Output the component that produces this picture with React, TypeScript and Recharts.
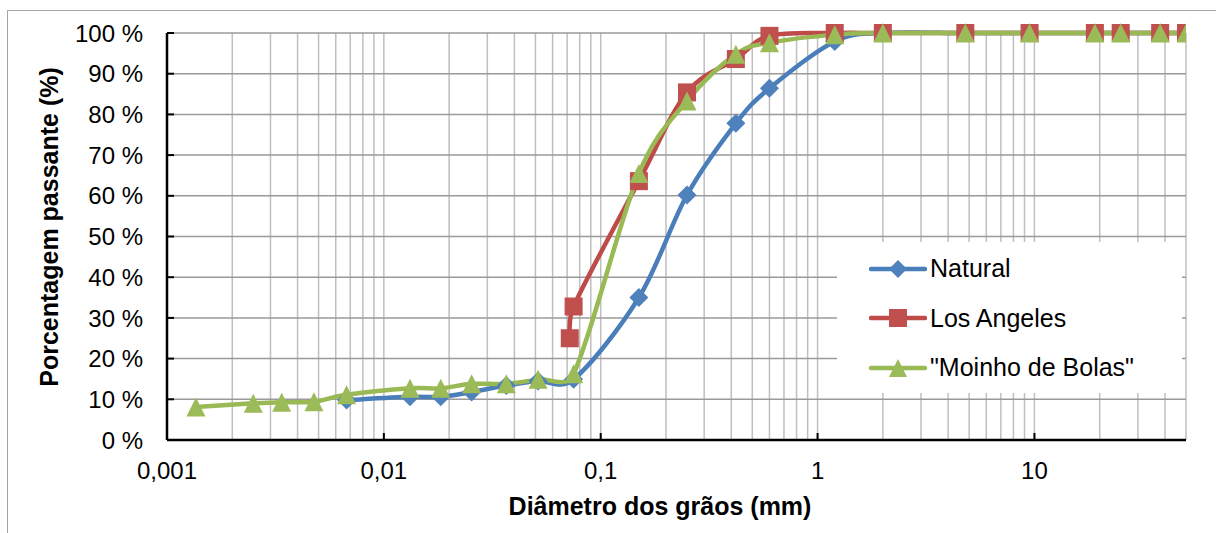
import React from 'react';
import { LineChart, Line, XAxis, YAxis, CartesianGrid, Legend } from 'recharts';

const FONT = '"Liberation Sans", Arial, Helvetica, sans-serif';

// Natural
const naturalDiameters = [0.00673, 0.0132, 0.0183, 0.0254, 0.0367, 0.0514, 0.075, 0.15, 0.25, 0.42, 0.6, 1.2, 2, 4.8, 9.5, 19, 25, 38, 50];
const naturalPassing = [9.8, 10.6, 10.6, 11.8, 13.4, 14.5, 14.9, 35.0, 60.2, 77.8, 86.4, 97.9, 100, 100, 100, 100, 100, 100, 100];

// Los Angeles
const laDiameters = [0.072, 0.075, 0.15, 0.25, 0.42, 0.6, 1.2, 2, 4.8, 9.5, 19, 25, 38, 50];
const laPassing = [25.0, 32.8, 63.6, 85.4, 93.6, 99.3, 100, 100, 100, 100, 100, 100, 100, 100];

// "Moinho de Bolas"
const moinhoDiameters = [0.00136, 0.0025, 0.00338, 0.00476, 0.00673, 0.0132, 0.0183, 0.0254, 0.0367, 0.0514, 0.075, 0.15, 0.25, 0.42, 0.6, 1.2, 2, 4.8, 9.5, 19, 25, 38, 50];
const moinhoPassing = [8.1, 9.0, 9.3, 9.4, 11.1, 12.7, 12.7, 13.8, 13.8, 14.9, 16.3, 65.5, 83.3, 94.8, 97.6, 99.6, 100, 100, 100, 100, 100, 100, 100];

const seriesNames = ['Natural', 'Los Angeles', '"Moinho de Bolas"'];

const xMajorTicks = [0.001, 0.01, 0.1, 1, 10];
const xTickLabels = ['0,001', '0,01', '0,1', '1', '10'];
const xMinorMultipliers = [1, 2, 3, 4, 5, 6, 7, 8, 9];
const xMin = 0.001;
const xMax = 50;
const yTicks = [0, 10, 20, 30, 40, 50, 60, 70, 80, 90, 100];

const gridTicks = xMajorTicks
  .flatMap((d) => xMinorMultipliers.map((m) => Number((d * m).toPrecision(6))))
  .filter((v) => v <= xMax);

const toData = (ds: number[], ps: number[]) => ds.map((d, i) => ({ d, p: ps[i] }));
const naturalData = toData(naturalDiameters, naturalPassing);
const laData = toData(laDiameters, laPassing);
const moinhoData = toData(moinhoDiameters, moinhoPassing);

const BLUE_LINE = '#4A7EBB';
const BLUE_MARK = '#4F81BD';
const RED_LINE = '#BE4B48';
const RED_MARK = '#C0504D';
const GREEN_LINE = '#98B954';
const GREEN_MARK = '#9BBB59';

const TICK_FONT = 24;
const X_MARGIN = 22;
const Y_MARGIN = 24;
const TICK_LEN = 7;

const dist = (a: number[], b: number[]) => Math.hypot(a[0] - b[0], a[1] - b[1]);

// Excel-like smoothed line: Catmull-Rom Bezier with handles clamped to half the segment length
const excelSmooth = (context: any) => {
  let pts: number[][] = [];
  return {
    areaStart() {},
    areaEnd() {},
    lineStart() {
      pts = [];
    },
    point(x: number, y: number) {
      pts.push([+x, +y]);
    },
    lineEnd() {
      const n = pts.length;
      if (!n) return;
      context.moveTo(pts[0][0], pts[0][1]);
      for (let i = 0; i < n - 1; i++) {
        const p0 = pts[Math.max(0, i - 1)];
        const p1 = pts[i];
        const p2 = pts[i + 1];
        const p3 = pts[Math.min(n - 1, i + 2)];
        const d12 = dist(p1, p2);
        const d02 = dist(p0, p2);
        const d13 = dist(p1, p3);
        const f = d02 / 6 < d12 / 2 || d02 === 0 ? 1 / 6 : d12 / 2 / d02;
        const g = d13 / 6 < d12 / 2 || d13 === 0 ? 1 / 6 : d12 / 2 / d13;
        context.bezierCurveTo(
          p1[0] + f * (p2[0] - p0[0]),
          p1[1] + f * (p2[1] - p0[1]),
          p2[0] - g * (p3[0] - p1[0]),
          p2[1] - g * (p3[1] - p1[1]),
          p2[0],
          p2[1]
        );
      }
    },
  };
};

const diamondPath = (cx: number, cy: number, r: number) =>
  `M${cx},${cy - r}L${cx + r},${cy}L${cx},${cy + r}L${cx - r},${cy}Z`;
const trianglePath = (cx: number, cy: number, r: number) =>
  `M${cx},${cy - r}L${cx + r},${cy + r}L${cx - r},${cy + r}Z`;

const DiamondDot = (props: any) => {
  const { cx, cy, index } = props;
  if (cx == null || cy == null) return <g key={`dd${index}`} />;
  return <path key={`dd${index}`} d={diamondPath(cx, cy, 9.5)} fill={BLUE_MARK} />;
};
const SquareDot = (props: any) => {
  const { cx, cy, index } = props;
  if (cx == null || cy == null) return <g key={`sd${index}`} />;
  return <rect key={`sd${index}`} x={cx - 9} y={cy - 9} width={18} height={18} fill={RED_MARK} />;
};
const TriangleDot = (props: any) => {
  const { cx, cy, index } = props;
  if (cx == null || cy == null) return <g key={`td${index}`} />;
  return <path key={`td${index}`} d={trianglePath(cx, cy, 9.5)} fill={GREEN_MARK} />;
};

const XTick = (props: any) => {
  const { x, y, payload } = props;
  const idx = xMajorTicks.findIndex((v) => Math.abs(v - payload.value) / v < 1e-6);
  if (idx < 0) return <g />;
  const axisY = y - X_MARGIN;
  return (
    <g>
      {idx > 0 && <line x1={x} x2={x} y1={axisY} y2={axisY - TICK_LEN} stroke="#000" strokeWidth={2} />}
      <text x={x} y={y} dy="0.72em" textAnchor="middle" fontSize={TICK_FONT} fontFamily={FONT} fill="#000">
        {xTickLabels[idx]}
      </text>
    </g>
  );
};

const YTick = (props: any) => {
  const { x, y, payload } = props;
  const axisX = x + Y_MARGIN;
  return (
    <g>
      <line x1={axisX} x2={axisX + TICK_LEN} y1={y} y2={y} stroke="#000" strokeWidth={2} />
      <text x={x} y={y} dy="0.36em" textAnchor="end" fontSize={TICK_FONT} fontFamily={FONT} fill="#000">
        {`${payload.value} %`}
      </text>
    </g>
  );
};

const LegendIcon = ({ i }: { i: number }) => {
  const color = [BLUE_LINE, RED_LINE, GREEN_LINE][i];
  return (
    <svg width={58} height={24} style={{ display: 'block' }}>
      <line x1={2} x2={56} y1={12} y2={12} stroke={color} strokeWidth={4.5} strokeLinecap="round" />
      {i === 0 && <path d={diamondPath(29, 12, 9)} fill={BLUE_MARK} />}
      {i === 1 && <rect x={20} y={3} width={18} height={18} fill={RED_MARK} />}
      {i === 2 && <path d={trianglePath(29, 12, 9)} fill={GREEN_MARK} />}
    </svg>
  );
};

const LegendContent = () => (
  <div style={{ paddingTop: 2, paddingLeft: 32 }}>
    {seriesNames.map((n, i) => (
      <div key={n} style={{ display: 'flex', alignItems: 'center', height: 49.5 }}>
        <LegendIcon i={i} />
        <span style={{ fontFamily: FONT, fontSize: 25, color: '#000', marginLeft: 3, whiteSpace: 'nowrap' }}>{n}</span>
      </div>
    ))}
  </div>
);

export default function App() {
  return (
    <div style={{ position: 'absolute', left: 0, top: 0, width: 1216, height: 533, background: '#fff', overflow: 'hidden' }}>
      <div
        style={{
          position: 'absolute',
          left: 7,
          top: 10,
          width: 1400,
          height: 800,
          borderLeft: '1.5px solid #a6a6a6',
          borderTop: '1.5px solid #a6a6a6',
        }}
      />
      <div style={{ position: 'absolute', left: 0, top: 0 }}>
        <LineChart width={1216} height={533} margin={{ top: 33, right: 30, bottom: 0, left: 0 }} style={{ fontFamily: FONT }}>
          <CartesianGrid horizontal={false} stroke="#bfbfbf" strokeWidth={1.5} />
          <CartesianGrid vertical={false} stroke="#9a9a9a" strokeWidth={1.5} />
          <XAxis
            dataKey="d"
            type="number"
            scale="log"
            domain={[xMin, xMax]}
            allowDataOverflow
            ticks={gridTicks}
            interval={0}
            height={93}
            tickSize={0}
            tickMargin={X_MARGIN}
            tick={<XTick />}
            axisLine={{ stroke: '#000', strokeWidth: 2.5 }}
            tickLine={false}
            label={{
              content: () => (
                <text x={660} y={515} textAnchor="middle" fontSize={25} fontWeight="bold" fontFamily={FONT} fill="#000">
                  Diâmetro dos grãos (mm)
                </text>
              ),
            }}
          />
          <YAxis
            type="number"
            domain={[0, 100]}
            ticks={yTicks}
            interval={0}
            width={167}
            tickSize={0}
            tickMargin={Y_MARGIN}
            tick={<YTick />}
            axisLine={{ stroke: '#000', strokeWidth: 2.5 }}
            tickLine={false}
            label={{
              content: () => (
                <text
                  x={49}
                  y={227}
                  transform="rotate(-90 49 227)"
                  textAnchor="middle"
                  dominantBaseline="central"
                  fontSize={25}
                  fontWeight="bold"
                  fontFamily={FONT}
                  fill="#000"
                >
                  Porcentagem passante (%)
                </text>
              ),
            }}
          />
          <Legend
            layout="horizontal"
            verticalAlign="middle"
            align="center"
            content={<LegendContent />}
            wrapperStyle={{ left: 837, top: 242, width: 345, height: 151, background: '#fff' }}
          />
          <Line
            data={naturalData}
            dataKey="p"
            name={seriesNames[0]}
            type={excelSmooth as any}
            stroke={BLUE_LINE}
            strokeWidth={4.5}
            dot={DiamondDot}
            activeDot={false}
            isAnimationActive={false}
          />
          <Line
            data={laData}
            dataKey="p"
            name={seriesNames[1]}
            type={excelSmooth as any}
            stroke={RED_LINE}
            strokeWidth={4.5}
            dot={SquareDot}
            activeDot={false}
            isAnimationActive={false}
          />
          <Line
            data={moinhoData}
            dataKey="p"
            name={seriesNames[2]}
            type={excelSmooth as any}
            stroke={GREEN_LINE}
            strokeWidth={4.5}
            dot={TriangleDot}
            activeDot={false}
            isAnimationActive={false}
          />
        </LineChart>
      </div>
    </div>
  );
}
